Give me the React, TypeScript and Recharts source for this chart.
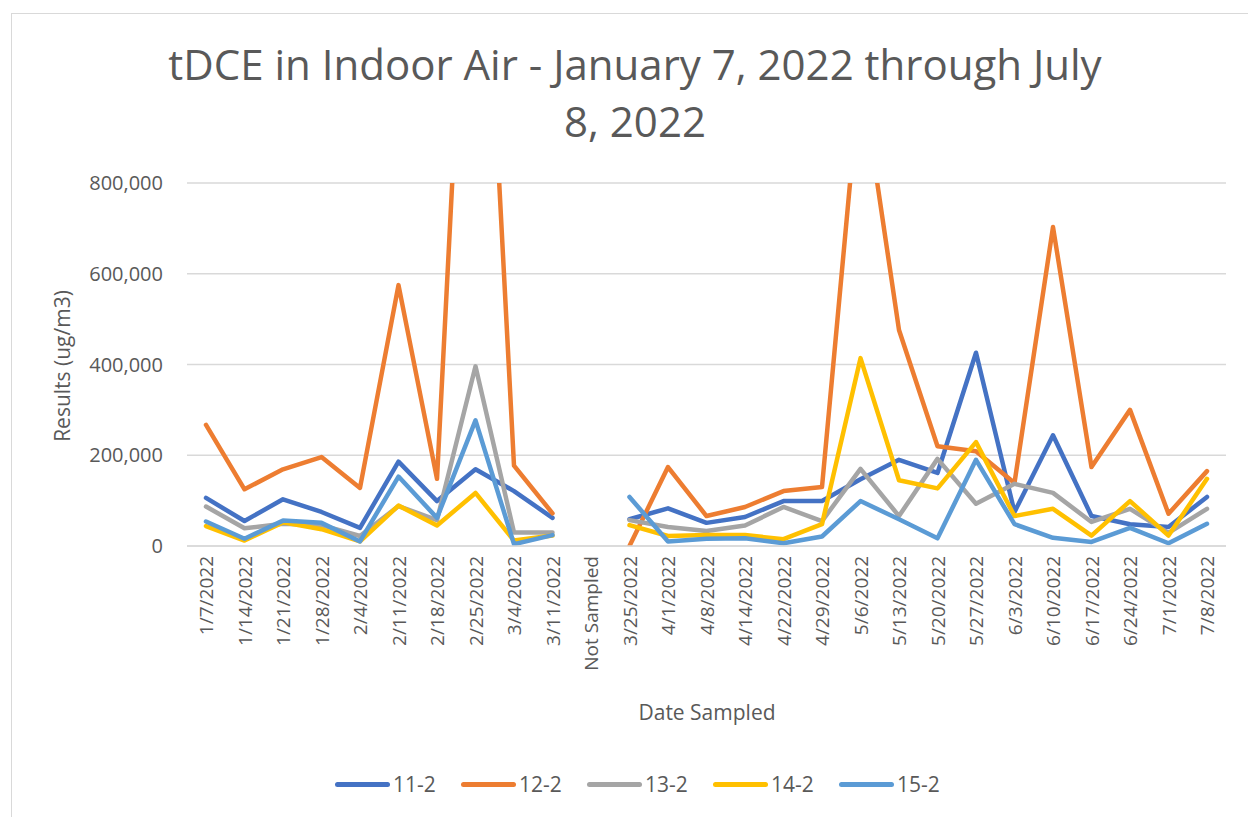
import React from "react";
import { LineChart, Line, XAxis, YAxis, CartesianGrid } from "recharts";

const dates = [
  "1/7/2022", "1/14/2022", "1/21/2022", "1/28/2022", "2/4/2022", "2/11/2022", "2/18/2022", "2/25/2022",
  "3/4/2022", "3/11/2022", "Not Sampled", "3/25/2022", "4/1/2022", "4/8/2022", "4/14/2022", "4/22/2022",
  "4/29/2022", "5/6/2022", "5/13/2022", "5/20/2022", "5/27/2022", "6/3/2022", "6/10/2022", "6/17/2022",
  "6/24/2022", "7/1/2022", "7/8/2022",
];

const s11 = [106000, 55000, 103000, 75000, 40000, 186000, 99000, 169000, 121000, 62000, null, 59000, 83000, 51000, 64000, 99000, 99000, 147000, 190000, 161000, 426000, 75000, 244000, 66000, 48000, 42000, 108000];
const s12 = [267000, 125000, 169000, 196000, 128000, 575000, 148000, 1800000, 177000, 72000, null, 0, 174000, 66000, 86000, 121000, 130000, 1050000, 476000, 220000, 209000, 139000, 703000, 174000, 300000, 71000, 165000];
const s13 = [87000, 39000, 49000, 46000, 22000, 88000, 57000, 396000, 30000, 30000, null, 57000, 42000, 33000, 45000, 86000, 55000, 170000, 66000, 192000, 93000, 137000, 117000, 53000, 82000, 29000, 82000];
const s14 = [44000, 12000, 52000, 37000, 10000, 89000, 45000, 117000, 12000, 23000, null, 46000, 22000, 24000, 24000, 15000, 48000, 414000, 145000, 127000, 229000, 66000, 82000, 23000, 99000, 23000, 148000];
const s15 = [54000, 16000, 56000, 51000, 10000, 153000, 62000, 277000, 4000, 24000, null, 108000, 10000, 16000, 17000, 6000, 21000, 99000, 59000, 17000, 190000, 48000, 18000, 9000, 40000, 6000, 49000];

const yTicks = [0, 200000, 400000, 600000, 800000];

const series = [
  { key: "11-2", values: s11, color: "#4472C4" },
  { key: "12-2", values: s12, color: "#ED7D31" },
  { key: "13-2", values: s13, color: "#A5A5A5" },
  { key: "14-2", values: s14, color: "#FFC000" },
  { key: "15-2", values: s15, color: "#5B9BD5" },
];

const data = dates.map((d, i) => {
  const row: any = { date: d };
  series.forEach((s) => (row[s.key] = s.values[i]));
  return row;
});

const font = "'Open Sans', sans-serif";
const grey = "#595959";

const XTick = ({ x, y, payload }: any) => (
  <text
    x={x}
    y={y}
    transform={`rotate(-90, ${x}, ${y})`}
    textAnchor="end"
    dominantBaseline="central"
    fill={grey}
    fontSize={19}
    fontFamily={font}
  >
    {payload.value}
  </text>
);

export default function App() {
  return (
    <div style={{ position: "absolute", left: 0, top: 0, width: 1248, height: 817, overflow: "hidden", background: "#fff", fontFamily: font }}>
      <div style={{ position: "absolute", left: 11, top: 13, width: 1300, height: 900, border: "1.5px solid #d9d9d9" }} />
      <div style={{ position: "absolute", left: 135, top: 35, width: 1000, textAlign: "center", fontSize: 42, lineHeight: "57px", color: grey }}>
        <div>tDCE in Indoor Air - January 7, 2022 through July</div>
        <div>8, 2022</div>
      </div>
      <div style={{ position: "absolute", left: 0, top: 0 }}>
        <LineChart width={1248} height={817} data={data} margin={{ top: 183, right: 22, left: 0, bottom: 0 }}>
          <CartesianGrid vertical={false} stroke="#d9d9d9" strokeWidth={1.5} />
          <XAxis
            dataKey="date"
            interval={0}
            height={271}
            padding={{ left: 19, right: 19 }}
            tickLine={false}
            tickSize={0}
            tickMargin={10}
            axisLine={{ stroke: "#d9d9d9", strokeWidth: 1.5 }}
            tick={<XTick />}
          />
          <YAxis
            width={187}
            domain={[0, 800000]}
            ticks={yTicks}
            allowDataOverflow
            axisLine={false}
            tickLine={false}
            tickSize={0}
            tickMargin={24}
            tick={{ fill: grey, fontSize: 20, fontFamily: font }}
            tickFormatter={(v: number) => v.toLocaleString("en-US")}
          />
          {series.map((s) => (
            <Line
              key={s.key}
              dataKey={s.key}
              stroke={s.color}
              strokeWidth={4.5}
              strokeLinejoin="round"
              strokeLinecap="round"
              dot={false}
              activeDot={false}
              isAnimationActive={false}
              type="linear"
            />
          ))}
        </LineChart>
      </div>
      <div style={{ position: "absolute", left: 62, top: 366, transform: "translate(-50%, -50%) rotate(-90deg)", fontSize: 21, color: grey, whiteSpace: "nowrap" }}>
        Results (ug/m3)
      </div>
      <div style={{ position: "absolute", left: 707, top: 712, transform: "translate(-50%, -50%)", fontSize: 21, color: grey, whiteSpace: "nowrap" }}>
        Date Sampled
      </div>
      <div style={{ position: "absolute", left: 0, width: 1248, top: 770, display: "flex", justifyContent: "center", paddingLeft: 52, boxSizing: "border-box" }}>
        {series.map((s) => (
          <div key={s.key} style={{ display: "flex", alignItems: "center", width: 126, fontSize: 21, color: grey }}>
            <span style={{ display: "inline-block", width: 55, height: 5, borderRadius: 2.5, background: s.color, marginRight: 3 }} />
            <span>{s.key}</span>
          </div>
        ))}
      </div>
    </div>
  );
}
